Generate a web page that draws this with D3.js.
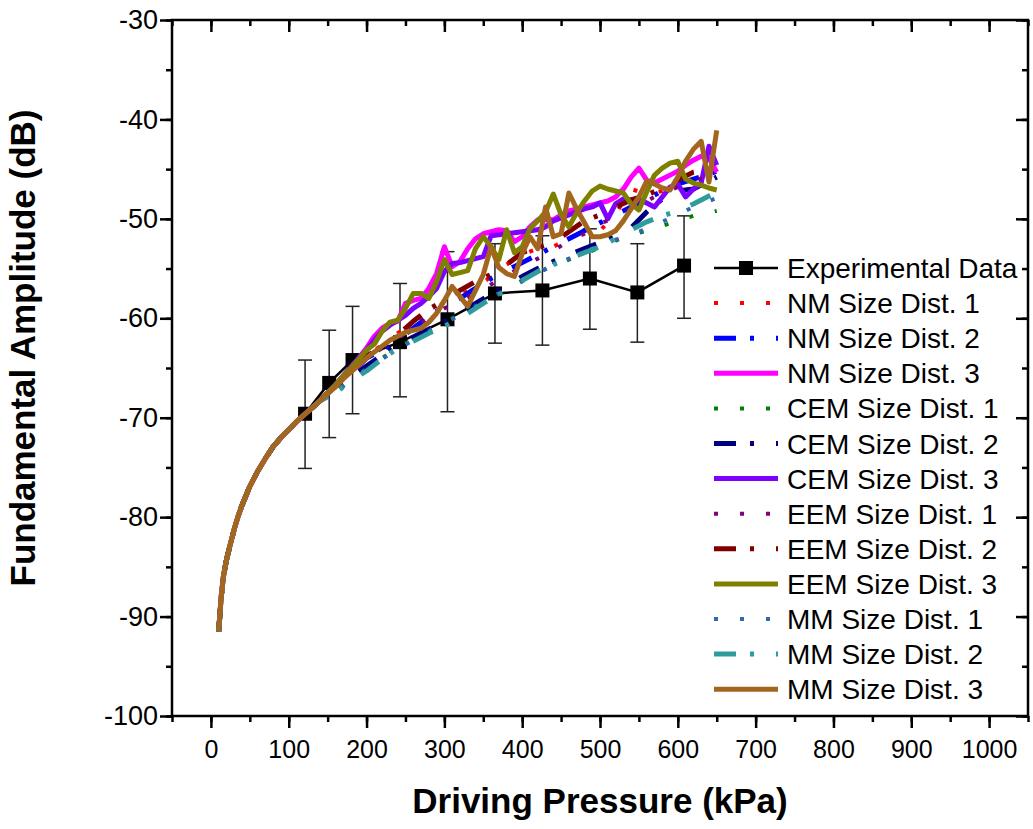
<!DOCTYPE html>
<html>
<head>
<meta charset="utf-8">
<script src="https://cdn.jsdelivr.net/npm/d3@7"></script>
<style>
  body { margin: 0; background: #fff; }
  svg { font-family: Arial, "Liberation Sans", sans-serif; }
</style>
</head>
<body>
<div id="chart"></div>
<script>
// experimental points
const expPressure = [121, 152, 182, 243, 304, 365, 426, 487, 548, 608];
const expAmp = [-69.6, -66.5, -64.2, -62.4, -60.1, -57.5, -57.2, -56.0, -57.4, -54.7];
const expErrUp = [5.4, 5.3, 5.4, 5.9, 6.8, 5.0, 5.5, 5.0, 4.9, 5.0];
const expErrDown = [5.5, 5.5, 5.4, 5.5, 9.3, 5.0, 5.5, 5.1, 5.0, 5.3];

// common low pressure part, all models lie on top of each other here
const pBase = [10, 13, 16, 20, 25, 30, 35, 40, 50, 60, 70, 80, 90, 100, 110, 120, 130, 140];
const ampBase = [-91.5, -88.2, -86.0, -84.3, -82.7, -81.2, -79.9, -78.8, -76.9, -75.4, -74.1, -72.9, -72.0, -71.2, -70.4, -69.7, -69.0, -68.3];

// grids for the upper part
const pFine = [150, 160, 170, 180, 190, 200, 210, 220, 230, 240, 250, 260, 270, 280, 290, 300, 310, 320, 330, 340,
  350, 360, 370, 380, 390, 400, 410, 420, 430, 440, 450, 460, 470, 480, 490, 500, 510, 520, 530, 540,
  550, 560, 570, 580, 590, 600, 610, 620, 630, 640, 650];
const pMid = [160, 180, 200, 220, 240, 260, 280, 300, 320, 340, 360, 380, 400, 420, 440, 460, 480, 500, 520, 540,
  560, 580, 600, 620, 640, 650];

const nm1 = [-66.9, -65.4, -63.7, -62.7, -61.5, -60.5, -59.3, -58.4, -57.6, -57.0, -55.8, -54.6, -53.6, -53.0, -52.8, -52.0, -51.2, -51.2, -49.5, -47.0, -47.5, -47.2, -46.5, -45.8, -45.3, -45.0];
const nm2 = [-67.0, -65.6, -64.0, -63.2, -62.2, -61.0, -59.8, -58.8, -58.0, -57.0, -56.0, -55.2, -54.4, -53.6, -52.8, -52.0, -51.2, -50.4, -49.6, -48.8, -48.0, -47.2, -46.5, -46.0, -45.5, -45.2];
const nm3 = [-67.5, -66.7, -65.8, -64.9, -64.0,
  -63.0, -61.8, -61.0, -60.5, -60.3, -58.5, -58.2, -58.0, -57.0, -55.5, -52.8, -54.8, -54.3, -53.0, -52.0,
  -51.5, -51.3, -51.1, -51.2, -52.3, -51.8, -50.8, -50.1, -50.1, -50.1, -49.6, -49.2, -49.0, -48.8, -48.6,
  -48.4, -48.2, -47.8, -47.0, -45.8, -44.9, -46.1, -46.4, -46.0, -45.6, -45.2, -44.6, -44.1, -43.7, -43.9, -45.3];
const cem1 = [-67.4, -66.1, -65.0, -64.0, -63.0, -62.1, -61.2, -60.4, -59.6, -58.7, -57.9, -57.0, -56.2, -55.4, -54.7, -54.1, -53.5, -52.9, -52.2, -51.6, -51.2, -50.7, -50.2, -49.7, -49.4, -49.2];
const cem2 = [-67.3, -66.0, -64.8, -63.7, -62.7, -61.9, -61.1, -60.3, -59.5, -58.5, -57.6, -56.8, -55.8, -55.0, -54.3, -53.6, -53.0, -52.4, -51.6, -50.9, -49.3, -48.0, -47.2, -47.0, -46.2, -45.8];
const cem3 = [-67.5, -66.7, -65.8, -64.9, -64.0,
  -63.2, -62.2, -61.3, -60.7, -60.2, -59.7, -59.0, -58.5, -57.8, -57.0, -55.3, -54.5, -54.4, -54.2, -54.0,
  -53.8, -51.7, -51.6, -51.5, -51.4, -51.3, -51.2, -51.1, -50.8, -50.2, -49.9, -49.6, -49.3, -49.0, -48.8,
  -48.4, -50.0, -48.5, -48.0, -48.1, -48.0, -48.4, -48.8, -47.8, -46.8, -46.5, -47.8, -47.0, -46.4, -42.7, -44.6];
const eem1 = [-67.0, -65.6, -64.0, -63.0, -62.0, -61.0, -60.0, -59.0, -58.3, -57.5, -56.6, -55.7, -54.8, -54.0, -53.2, -52.2, -51.5, -50.5, -49.8, -49.0, -48.2, -47.4, -46.8, -46.2, -45.7, -45.4];
const eem2 = [-66.9, -65.4, -63.8, -62.9, -61.7, -60.3, -59.1, -58.2, -57.2, -56.3, -55.6, -54.6, -53.4, -52.9, -52.4, -51.3, -50.2, -49.6, -48.8, -48.1, -47.6, -46.9, -46.1, -45.3, -45.0, -44.8];
const eem3 = [-67.5, -66.7, -65.8, -65.0, -64.1,
  -63.2, -62.6, -61.3, -60.4, -60.2, -59.0, -57.5, -57.5, -58.0, -56.3, -54.1, -55.6, -55.4, -55.2, -53.0,
  -51.8, -52.8, -54.1, -51.1, -53.4, -52.8, -51.0, -50.2, -49.3, -47.5, -49.6, -50.8, -49.4, -48.2, -47.2,
  -46.7, -47.0, -47.2, -47.4, -48.5, -49.1, -47.3, -45.6, -44.9, -44.4, -44.2, -46.0, -46.4, -46.6, -46.9, -47.1];
const mm1 = [-67.5, -66.2, -65.1, -64.1, -63.1, -62.2, -61.3, -60.5, -59.7, -58.8, -58.0, -57.1, -56.3, -55.5, -54.6, -54.0, -53.3, -52.7, -52.1, -51.6, -51.0, -50.3, -49.6, -48.8, -48.2, -47.9];
const mm2 = [-67.5, -66.3, -65.3, -64.1, -63.0, -62.3, -61.5, -60.8, -60.0, -59.0, -58.0, -57.2, -56.2, -55.3, -54.6, -54.0, -53.4, -52.8, -52.0, -51.1, -50.3, -49.7, -49.2, -48.5, -47.7, -47.3];
const mm3 = [-67.6, -66.9, -66.1, -65.4, -64.7,
  -64.0, -63.4, -62.8, -62.2, -61.8, -61.4, -61.2, -61.0, -60.4, -59.5, -58.2, -56.8, -57.8, -58.8, -57.2,
  -55.6, -52.8, -54.9, -55.5, -55.8, -53.5, -51.8, -53.0, -48.8, -51.8, -51.5, -47.4, -49.0, -50.4, -51.8,
  -51.8, -51.6, -51.2, -50.2, -49.0, -47.8, -46.2, -46.5, -46.9, -47.1, -45.8, -44.2, -43.0, -42.2, -46.3, -41.1];

const seriesNames = ["NM Size Dist. 1", "NM Size Dist. 2", "NM Size Dist. 3",
  "CEM Size Dist. 1", "CEM Size Dist. 2", "CEM Size Dist. 3",
  "EEM Size Dist. 1", "EEM Size Dist. 2", "EEM Size Dist. 3",
  "MM Size Dist. 1", "MM Size Dist. 2", "MM Size Dist. 3"];
const seriesValues = [nm1, nm2, nm3, cem1, cem2, cem3, eem1, eem2, eem3, mm1, mm2, mm3];
const seriesColors = ["#ff0000", "#0000ff", "#ff00ff", "#008000", "#000080", "#8000ff",
  "#800080", "#800000", "#808000", "#3366b8", "#2f9c9c", "#a3661f"];

const xTicks = [0, 100, 200, 300, 400, 500, 600, 700, 800, 900, 1000];
const yTicks = [-100, -90, -80, -70, -60, -50, -40, -30];

const margin = {top: 20, right: 5, bottom: 113, left: 172},
    width = 1033 - margin.left - margin.right,
    height = 829 - margin.top - margin.bottom;

const svg = d3.select("#chart")
    .append("svg")
    .attr("width", width + margin.left + margin.right)
    .attr("height", height + margin.top + margin.bottom)
    .append("g")
    .attr("transform", `translate(${margin.left},${margin.top})`);

const x = d3.scaleLinear().domain([-50, 1050]).range([0, width]);
const y = d3.scaleLinear().domain([-100, -30]).range([height, 0]);

const minorX = d3.range(-50, 1051, 50);
const minorY = d3.range(-100, -29, 5);

function styleAxis(g, size) {
    g.select(".domain").remove();
    g.selectAll("line").attr("stroke", "#000").attr("stroke-width", 2.5);
    g.selectAll("text").attr("fill", "#000").attr("font-size", size || 25);
}

// bottom axis
svg.append("g").attr("transform", `translate(0,${height})`)
    .call(d3.axisBottom(x).tickValues(minorX).tickSize(6).tickFormat(""))
    .call(styleAxis);
svg.append("g").attr("transform", `translate(0,${height})`)
    .call(d3.axisBottom(x).tickValues(xTicks).tickSize(12).tickPadding(12).tickFormat(d3.format("d")))
    .call(styleAxis, 25);
// top axis, ticks inside
svg.append("g")
    .call(d3.axisTop(x).tickValues(minorX).tickSize(-6).tickFormat(""))
    .call(styleAxis);
svg.append("g")
    .call(d3.axisTop(x).tickValues(xTicks).tickSize(-12).tickFormat(""))
    .call(styleAxis);
// left axis
svg.append("g")
    .call(d3.axisLeft(y).tickValues(minorY).tickSize(6).tickFormat(""))
    .call(styleAxis);
svg.append("g")
    .call(d3.axisLeft(y).tickValues(yTicks).tickSize(12).tickPadding(2).tickFormat(d => "-" + Math.abs(d)))
    .call(styleAxis, 27);
// right axis, ticks inside
svg.append("g").attr("transform", `translate(${width},0)`)
    .call(d3.axisRight(y).tickValues(minorY).tickSize(-6).tickFormat(""))
    .call(styleAxis);
svg.append("g").attr("transform", `translate(${width},0)`)
    .call(d3.axisRight(y).tickValues(yTicks).tickSize(-12).tickFormat(""))
    .call(styleAxis);

// frame
svg.append("rect")
    .attr("width", width).attr("height", height)
    .attr("fill", "none").attr("stroke", "#000").attr("stroke-width", 2.5);

// axis titles
svg.append("text")
    .attr("x", width / 2).attr("y", height + 97)
    .attr("text-anchor", "middle")
    .attr("font-size", 35).attr("font-weight", "bold")
    .text("Driving Pressure (kPa)");
svg.append("text")
    .attr("transform", `translate(${-137},${height / 2 - 20}) rotate(-90)`)
    .attr("text-anchor", "middle")
    .attr("font-size", 35).attr("font-weight", "bold")
    .text("Fundamental Amplitude (dB)");

// experimental data
const expData = expPressure.map((p, i) => ({p: p, a: expAmp[i], up: expErrUp[i], down: expErrDown[i]}));

const line = d3.line().x(d => x(d[0])).y(d => y(d[1]));

const bars = svg.append("g").selectAll("g")
    .data(expData)
    .join("g");
bars.append("line")
    .attr("x1", d => x(d.p)).attr("x2", d => x(d.p))
    .attr("y1", d => y(d.a + d.up)).attr("y2", d => y(d.a - d.down))
    .attr("stroke", "#222").attr("stroke-width", 1.5);
bars.append("line")
    .attr("x1", d => x(d.p) - 7).attr("x2", d => x(d.p) + 7)
    .attr("y1", d => y(d.a + d.up)).attr("y2", d => y(d.a + d.up))
    .attr("stroke", "#222").attr("stroke-width", 1.5);
bars.append("line")
    .attr("x1", d => x(d.p) - 7).attr("x2", d => x(d.p) + 7)
    .attr("y1", d => y(d.a - d.down)).attr("y2", d => y(d.a - d.down))
    .attr("stroke", "#222").attr("stroke-width", 1.5);

svg.append("path")
    .datum(expData.map(d => [d.p, d.a]))
    .attr("d", line)
    .attr("fill", "none").attr("stroke", "#000").attr("stroke-width", 2.5);

svg.append("g").selectAll("rect")
    .data(expData)
    .join("rect")
    .attr("x", d => x(d.p) - 7).attr("y", d => y(d.a) - 7)
    .attr("width", 14).attr("height", 14)
    .attr("fill", "#000");

// model curves
function styleFor(i) {
    const kind = i % 3;
    if (kind === 0) return {w: 4, dash: "4,22"};
    if (kind === 1) return {w: 5, dash: "22,14,4,22"};
    return {w: 5, dash: null};
}

seriesValues.forEach((vals, i) => {
    const grid = vals.length === pFine.length ? pFine : pMid;
    const pts = pBase.map((p, j) => [p, ampBase[j]]).concat(grid.map((p, j) => [p, vals[j]]));
    const st = styleFor(i);
    svg.append("path")
        .datum(pts)
        .attr("d", line)
        .attr("fill", "none")
        .attr("stroke", seriesColors[i])
        .attr("stroke-width", st.w)
        .attr("stroke-linejoin", "round")
        .attr("stroke-dasharray", st.dash);
});

// legend
const legend = svg.append("g").attr("transform", `translate(${714 - margin.left},${268 - margin.top})`);
const rowH = 35.1;

const expRow = legend.append("g");
expRow.append("line").attr("x1", 0).attr("x2", 64).attr("stroke", "#000").attr("stroke-width", 2.5);
expRow.append("rect").attr("x", 25).attr("y", -7).attr("width", 14).attr("height", 14).attr("fill", "#000");
expRow.append("text").attr("x", 73).attr("y", 10).attr("font-size", 28).text("Experimental Data");

seriesNames.forEach((name, i) => {
    const st = styleFor(i);
    const row = legend.append("g").attr("transform", `translate(0,${(i + 1) * rowH})`);
    row.append("line").attr("x1", 0).attr("x2", 64)
        .attr("stroke", seriesColors[i]).attr("stroke-width", st.w)
        .attr("stroke-dasharray", st.dash);
    row.append("text").attr("x", 73).attr("y", 10).attr("font-size", 28).text(name);
});
</script>
</body>
</html>
